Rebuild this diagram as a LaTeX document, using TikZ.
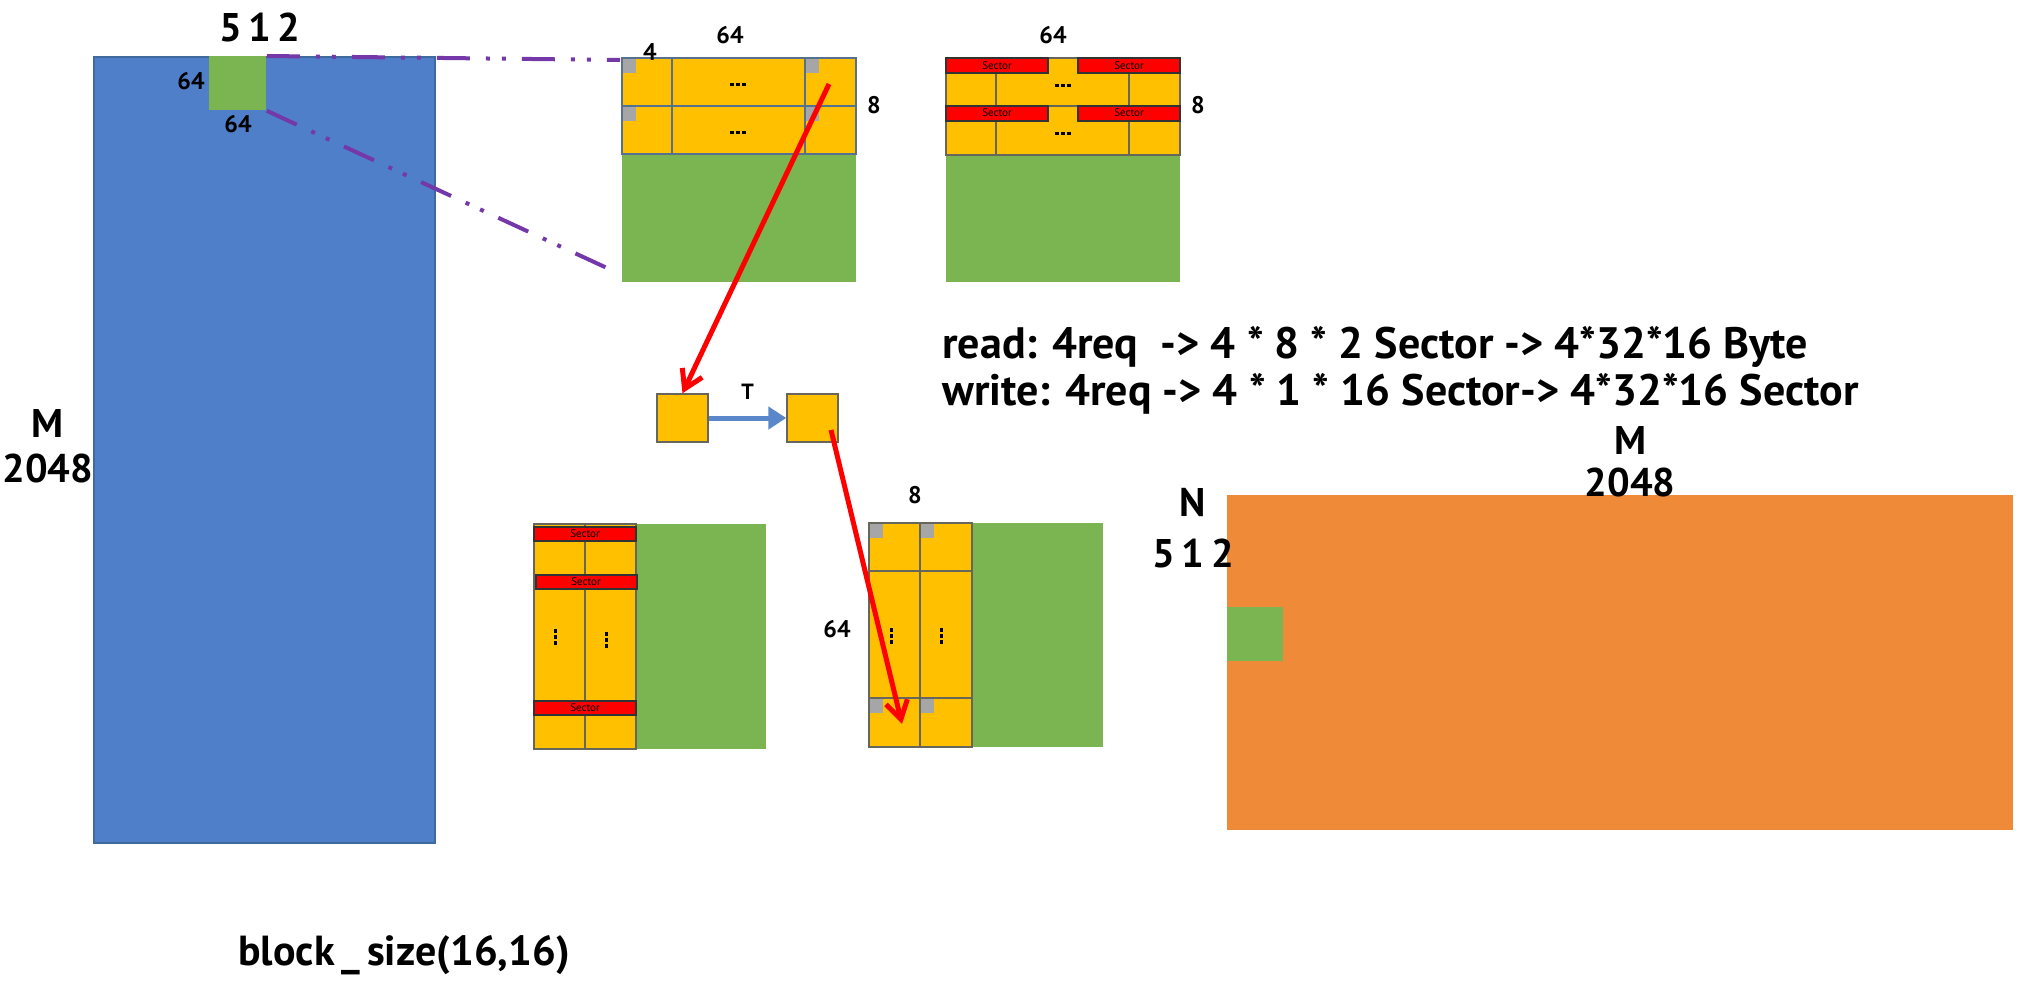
\documentclass[tikz,border=0pt]{standalone}
\usepackage{fontspec}
\setmainfont{PT Sans}
\usetikzlibrary{arrows.meta}

\definecolor{matblue}{HTML}{4F7FC9}
\definecolor{matblueline}{HTML}{3F6A9E}
\definecolor{tilegreen}{HTML}{7AB552}
\definecolor{celly}{HTML}{FFC000}
\definecolor{matorange}{HTML}{EE8A38}
\definecolor{cornergray}{HTML}{A6A6A6}
\definecolor{sectred}{HTML}{FF0000}
\definecolor{zoomline}{HTML}{7438A8}
\definecolor{tarrow}{HTML}{5A87C9}
\definecolor{edgeblue}{HTML}{56708F}
\definecolor{edgegray}{HTML}{66665A}

\tikzset{
  big/.style={font=\bfseries\fontsize{20}{20}\selectfont, inner sep=0pt},
  note/.style={font=\bfseries\fontsize{22}{22}\selectfont, inner sep=0pt, anchor=base west},
  small/.style={font=\bfseries\fontsize{12}{12}\selectfont, inner sep=0pt},
  cellA/.style={fill=celly, draw=edgeblue, line width=0.75pt},
  cellB/.style={fill=celly, draw=edgegray, line width=0.6pt},
  strip/.style={fill=sectred, draw=black!80, line width=0.6pt},
  corner/.style={fill=cornergray},
  zoomed/.style={draw=zoomline, line width=2pt,
    dash pattern=on 16.5pt off 8pt on 2pt off 6pt on 2pt off 8pt},
  movearrow/.style={draw=sectred, line width=2.5pt,
    -{Straight Barb[length=9pt, width=11pt, line width=2.5pt]}},
  transarrow/.style={draw=tarrow, line width=2.5pt,
    -{Triangle[length=9pt, width=11pt]}},
  sq/.style={fill=celly, draw=edgegray, line width=0.75pt, inner sep=0pt,
    minimum width=25.5pt, minimum height=24pt},
  hdots/.pic={\fill (-8,-1.5) rectangle (-4,1.5); \fill (-2,-1.5) rectangle (2,1.5);
              \fill (4,-1.5) rectangle (8,1.5);},
  vdots/.pic={\fill (-1.5,-8) rectangle (1.5,-4); \fill (-1.5,-2) rectangle (1.5,2);
              \fill (-1.5,4) rectangle (1.5,8);}
}
\newcommand{\sectorlabel}[1]{\node[font=\fontsize{5.5}{5.5}\selectfont, inner sep=0pt] at (#1) {Sector};}

\begin{document}
\begin{tikzpicture}[x=0.5pt, y=-0.5pt]
\useasboundingbox (0,0) rectangle (2028,990);

% source matrix M x N
\filldraw[fill=matblue, draw=matblueline, line width=0.6pt] (94,57) rectangle (435,843);
\node[anchor=north west, fill=tilegreen, inner sep=0pt,
      minimum width=28.5pt, minimum height=27pt] (tile) at (209,56) {};
\node[big] at (260,28) {5\,1\,2};
\node[small] at (191,81) {64};
\node[small] at (238,124) {64};
\node[big] at (48,423) {M};
\node[big] at (48,468) {2048};

% tile read as rows of sectors
\fill[tilegreen] (622,154) rectangle (856,282);
\foreach \ya/\yb in {58/106,106/154}{
  \foreach \xa/\xb in {622/672,672/805,805/856}{
    \draw[cellA] (\xa,\ya) rectangle (\xb,\yb);
  }
  \fill[corner] (623,\ya+1) rectangle (636,\ya+15);
  \fill[corner] (806,\ya+1) rectangle (819,\ya+15);
}
\pic at (738,85) {hdots};
\pic at (738,133) {hdots};
\node[small] at (650,52) {4};
\node[small] at (730,35) {64};
\node[small] at (874,105) {8};
\coordinate (zA) at (620,60);
\coordinate (zB) at (607,268);
\draw[zoomed] (tile.north east) -- (zA);
\draw[zoomed] (tile.south east) -- (zB);

% same tile with its sectors marked
\fill[tilegreen] (946,155) rectangle (1180,282);
\foreach \ya/\yb in {58/106,106/155}{
  \foreach \xa/\xb in {946/996,996/1129,1129/1180}{
    \draw[cellB] (\xa,\ya) rectangle (\xb,\yb);
  }
  \draw[strip] (946,\ya) rectangle (1048,\ya+15);
  \draw[strip] (1078,\ya) rectangle (1180,\ya+15);
}
\sectorlabel{997,66}\sectorlabel{1129,66}
\sectorlabel{997,113}\sectorlabel{1129,113}
\pic at (1063,86) {hdots};
\pic at (1063,134) {hdots};
\node[small] at (1053,35) {64};
\node[small] at (1198,105) {8};

% transpose step
\node[sq] (s1) at (682.5,418) {};
\node[sq] (s2) at (812.5,418) {};
\draw[transarrow] (s1.east) -- (s2.west)
  node[midway, above=8pt, font=\bfseries\fontsize{11}{11}\selectfont, inner sep=0pt] {T};
\coordinate (rA) at (829,84);
\draw[movearrow] (rA) -- (s1.north);

% transposed tile, sectors per column pair
\fill[tilegreen] (636,524) rectangle (766,749);
\foreach \ya/\yb in {524/575,575/701,701/749}{
  \draw[cellB] (534,\ya) rectangle (585,\yb);
  \draw[cellB] (585,\ya) rectangle (636,\yb);
}
\draw[strip] (534,527) rectangle (636,541);
\draw[strip] (536,575) rectangle (637,589);
\draw[strip] (534,701) rectangle (636,715);
\sectorlabel{585,534}\sectorlabel{586,582}\sectorlabel{585,708}
\pic at (555,637) {vdots};
\pic at (606,640) {vdots};

% transposed tile, written column by column
\fill[tilegreen] (972,523) rectangle (1103,747);
\foreach \ya/\yb in {523/571,571/698,698/747}{
  \draw[cellB] (869,\ya) rectangle (920,\yb);
  \draw[cellB] (920,\ya) rectangle (972,\yb);
}
\foreach \yy in {524,699}{
  \fill[corner] (870,\yy) rectangle (883,\yy+14);
  \fill[corner] (921,\yy) rectangle (934,\yy+14);
}
\pic at (891,636) {vdots};
\pic at (941,636) {vdots};
\node[small] at (915,495) {8};
\node[small] at (837,629) {64};
\coordinate (rB) at (831,430);
\coordinate (rC) at (902,724);
\draw[movearrow] (rB) -- (rC);

% destination matrix N x M
\fill[matorange] (1227,495) rectangle (2013,830);
\fill[tilegreen] (1227,607) rectangle (1283,661);
\node[big] at (1193,502) {N};
\node[big] at (1193,553) {5\,1\,2};
\node[big] at (1630,440) {M};
\node[big] at (1630,482) {2048};

% request counts
\node[note] at (942,358) {read: 4req\ \ -> 4 * 8 * 2 Sector -> 4*32*16 Byte};
\node[note] at (942,405) {write: 4req -> 4 * 1 * 16 Sector-> 4*32*16 Sector};

\node[font=\bfseries\fontsize{21}{21}\selectfont, inner sep=0pt, anchor=base west] at (238,965) {block\,\_\,size(16,16)};
\end{tikzpicture}
\end{document}
